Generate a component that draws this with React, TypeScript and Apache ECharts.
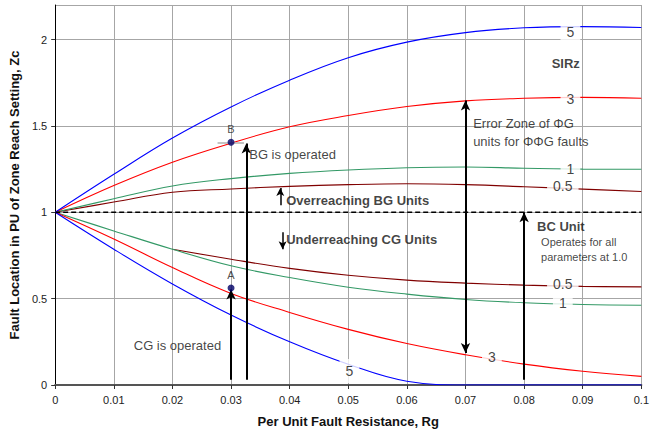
import React, { useEffect, useRef } from "react";
import * as echarts from "echarts";

// Per unit fault resistance Rg (x)
const xs = [0, 0.01, 0.02, 0.03, 0.04, 0.05, 0.06, 0.07, 0.08, 0.09, 0.1];

// Over-reaching curves (BG units), by SIRz
const over5 = [1, 1.22, 1.43, 1.61, 1.765, 1.895, 1.985, 2.04, 2.068, 2.075, 2.07];
const over3 = [1, 1.155, 1.29, 1.4, 1.495, 1.56, 1.612, 1.645, 1.66, 1.665, 1.66];
const over1 = [1, 1.078, 1.152, 1.195, 1.225, 1.245, 1.258, 1.262, 1.255, 1.25, 1.249];
const over05 = [1, 1.059, 1.116, 1.135, 1.15, 1.16, 1.165, 1.16, 1.148, 1.134, 1.12];

// Under-reaching curves (CG units), by SIRz
const under05 = [null, null, 0.786, 0.728, 0.675, 0.635, 0.607, 0.59, 0.578, 0.571, 0.568];
const under1 = [1, 0.892, 0.786, 0.69, 0.622, 0.566, 0.526, 0.495, 0.476, 0.466, 0.462];
const under3 = [1, 0.845, 0.68, 0.53, 0.42, 0.322, 0.24, 0.175, 0.121, 0.08, 0.05];
const under5 = [1, 0.786, 0.585, 0.405, 0.25, 0.12, 0.022, 0, 0, 0, 0];

// Reach setting reference line
const refX = [0, 0.1];
const refY = [1, 1];

// Operating points
const pointNames = ["B", "A"];
const pointX = [0.03, 0.03];
const pointY = [1.405, 0.562];

// Error bar at point B
const barBX = [0.0277, 0.0322];
const barBY = 1.405;

// Curve labels (SIRz values)
const curveLabelText = ["5", "3", "1", "0.5", "0.5", "1", "3", "5"];
const curveLabelX = [0.0879, 0.0879, 0.0879, 0.0866, 0.0866, 0.0866, 0.0745, 0.0502];
const curveLabelY = [2.046, 1.653, 1.249, 1.15, 0.583, 0.474, 0.162, 0.081];

// Arrows: [x, yFrom, yTo, double-headed]
const arrowX = [0.03, 0.0326, 0.07, 0.08];
const arrowFrom = [0.03, 0.03, 0.185, 0.03];
const arrowTo = [0.553, 1.398, 1.647, 1.0];
const arrowBoth = [false, false, true, false];

const smallArrowX = [0.0384, 0.0388];
const smallArrowFrom = [1.04, 0.884];
const smallArrowTo = [1.14, 0.786];

// Text annotations
const noteText = [
  "BG is operated",
  "Overreaching BG Units",
  "Underreaching CG Units",
  "CG is operated",
  "Error Zone of ΦG",
  "units for ΦΦG faults",
  "SIRz",
  "BC Unit",
  "Operates for all",
  "parameters at 1.0",
];
const noteX = [0.0331, 0.0394, 0.0394, 0.0134, 0.0713, 0.0713, 0.0871, 0.0822, 0.0829, 0.0829];
const noteY = [1.335, 1.07, 0.844, 0.231, 1.514, 1.41, 1.861, 0.919, 0.827, 0.74];
const noteBold = [false, true, true, false, false, false, true, true, false, false];
const noteSize = [13, 13, 13, 13, 13, 13, 13, 13, 11, 11];
const noteAlign = ["left", "left", "left", "left", "left", "left", "center", "left", "left", "left"];

const FONT = "'Liberation Sans', Arial, sans-serif";

const toPairs = (ys: (number | null)[]) => xs.map((x, i) => [x, ys[i]]);

function curve(name: string, ys: (number | null)[], color: string) {
  return {
    name,
    type: "line",
    data: toPairs(ys),
    showSymbol: false,
    symbol: "none",
    smooth: 0.4,
    connectNulls: false,
    silent: true,
    lineStyle: { color, width: 1.1 },
    z: 3,
  };
}

export default function App() {
  const ref = useRef<HTMLDivElement>(null);
  useEffect(() => {
    const chart = echarts.init(ref.current!, null, { renderer: "svg" });

    const arrowData: any[] = [];
    arrowX.forEach((x, i) => {
      arrowData.push([
        { coord: [x, arrowFrom[i]], symbol: arrowBoth[i] ? "arrow" : "none" },
        { coord: [x, arrowTo[i]], symbol: "arrow" },
      ]);
    });
    smallArrowX.forEach((x, i) => {
      arrowData.push([
        { coord: [x, smallArrowFrom[i]], symbol: "none", lineStyle: { width: 1.5 } },
        { coord: [x, smallArrowTo[i]], symbol: "arrow", symbolSize: [6, 8], lineStyle: { width: 1.5 } },
      ]);
    });
    arrowData.push([
      { coord: [barBX[0], barBY], symbol: "none", lineStyle: { width: 1.5, color: "#b0b0b0" } },
      { coord: [barBX[1], barBY], symbol: "none", lineStyle: { width: 1.5, color: "#b0b0b0" } },
    ]);

    const option: any = {
      animation: false,
      textStyle: { fontFamily: FONT },
      grid: { left: 53, right: 4, top: 5, bottom: 50, containLabel: false },
      xAxis: {
        type: "value",
        min: 0,
        max: 0.1,
        interval: 0.01,
        name: "Per Unit Fault Resistance, Rg",
        nameLocation: "middle",
        nameGap: 30,
        nameTextStyle: { fontWeight: "bold", fontSize: 13, color: "#111", fontFamily: FONT },
        axisLine: { onZero: false, lineStyle: { color: "#555", width: 2 } },
        axisTick: { show: true, length: 4, lineStyle: { color: "#333" } },
        axisLabel: {
          fontSize: 11,
          color: "#222",
          margin: 9,
          fontFamily: FONT,
          formatter: (v: number) => String(+v.toFixed(2)),
        },
        splitLine: { show: true, lineStyle: { color: "#a6a6a6", width: 1 } },
      },
      yAxis: {
        type: "value",
        min: 0,
        max: 2.2,
        interval: 0.5,
        name: "Fault Location in PU of Zone Reach Setting, Zc",
        nameLocation: "middle",
        nameGap: 25,
        nameTextStyle: { fontWeight: "bold", fontSize: 13, color: "#111", fontFamily: FONT },
        axisLine: { show: true, onZero: false, lineStyle: { color: "#000", width: 1 } },
        axisTick: { show: true, length: 4, lineStyle: { color: "#333" } },
        axisLabel: {
          fontSize: 11,
          color: "#222",
          margin: 8,
          fontFamily: FONT,
          showMaxLabel: false,
          formatter: (v: number) => String(+v.toFixed(2)),
        },
        splitLine: { show: true, lineStyle: { color: "#a6a6a6", width: 1 } },
      },
      series: [
        curve("over 0.5", over05, "#800000"),
        curve("over 1", over1, "#339966"),
        curve("over 3", over3, "#ff0000"),
        curve("over 5", over5, "#0000ff"),
        curve("under 0.5", under05, "#800000"),
        curve("under 1", under1, "#339966"),
        curve("under 3", under3, "#ff0000"),
        curve("under 5", under5, "#0000ff"),
        {
          name: "reach",
          type: "line",
          data: refX.map((x, i) => [x, refY[i]]),
          showSymbol: false,
          symbol: "none",
          silent: true,
          lineStyle: { color: "#000", width: 1.3, type: [5, 3] },
          z: 4,
          markLine: {
            silent: true,
            animation: false,
            symbol: ["none", "arrow"],
            symbolSize: [7, 10],
            label: { show: false },
            lineStyle: { color: "#000", width: 2, type: "solid" },
            emphasis: { disabled: true },
            data: arrowData,
            z: 6,
          },
        },
        {
          name: "points",
          type: "scatter",
          silent: true,
          symbolSize: 7,
          itemStyle: { color: "#000066" },
          z: 8,
          data: pointNames.map((n, i) => ({ name: n, value: [pointX[i], pointY[i]] })),
          label: {
            show: true,
            position: "top",
            distance: 4,
            formatter: (p: any) => p.name,
            fontSize: 11,
            color: "#222",
            fontFamily: FONT,
          },
        },
        {
          name: "curveLabels",
          type: "scatter",
          silent: true,
          symbolSize: 1,
          itemStyle: { color: "rgba(0,0,0,0)" },
          z: 7,
          data: curveLabelText.map((t, i) => ({ name: t, value: [curveLabelX[i], curveLabelY[i]] })),
          label: {
            show: true,
            position: "inside",
            formatter: (p: any) => p.name,
            fontSize: 14,
            color: "#111",
            fontFamily: FONT,
            backgroundColor: "#fff",
            padding: [5, 6, 5, 6],
          },
        },
        {
          name: "notes",
          type: "scatter",
          silent: true,
          symbolSize: 1,
          itemStyle: { color: "rgba(0,0,0,0)" },
          z: 9,
          data: noteText.map((t, i) => ({
            name: t,
            value: [noteX[i], noteY[i]],
            label: {
              show: true,
              position: "inside",
              align: noteAlign[i],
              verticalAlign: "middle",
              formatter: t,
              fontSize: noteSize[i],
              fontWeight: noteBold[i] ? "bold" : "normal",
              color: "#111",
              fontFamily: FONT,
            },
          })),
        },
      ],
    };
    chart.setOption(option);
    return () => chart.dispose();
  }, []);
  return (
    <div
      ref={ref}
      style={{ position: "fixed", left: 0, top: 0, width: 652, height: 435, background: "#fff" }}
    />
  );
}
